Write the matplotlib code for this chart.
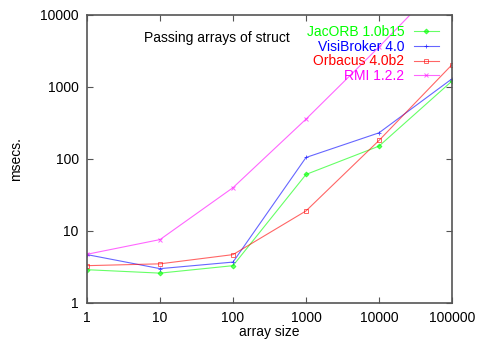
import numpy as np
from matplotlib import pyplot as plt

plt.rcParams['font.family'] = ['Liberation Sans', 'DejaVu Sans']

# data
sizes = [1, 10, 100, 1000, 10000, 100000]
size_labels = ['1', '10', '100', '1000', '10000', '100000']
jacorb = [2.9, 2.6, 3.3, 61, 151, 1210]
visibroker = [4.7, 3.0, 3.7, 105, 231, 1300]
orbacus = [3.3, 3.5, 4.7, 19, 181, 2040]
rmi = [4.75, 7.6, 40, 358, 3600, 40000]

y_ticks = [1, 10, 100, 1000, 10000]
y_labels = ['1', '10', '100', '1000', '10000']

fig = plt.figure(figsize=(4.83, 3.39), dpi=100)
ax = fig.add_axes([87 / 483, 1 - 303 / 339, 365 / 483, 288 / 339])

series = [
    ('JacORB 1.0b15', jacorb, '#00ff00', 'D', 2.5, 'full'),
    ('VisiBroker 4.0', visibroker, '#0000ff', '+', 3.5, 'full'),
    ('Orbacus 4.0b2', orbacus, '#ff0000', 's', 3.5, 'none'),
    ('RMI 1.2.2', rmi, '#ff00ff', 'x', 3.5, 'full'),
]
for name, vals, col, mk, ms, fill in series:
    ax.plot(sizes, vals, color=col, lw=0.8, marker=mk, ms=ms,
            fillstyle=fill, mew=0.7, alpha=0.6, label=name)

ax.set_xscale('log')
ax.set_yscale('log')
ax.set_xlim(1, 100000)
ax.set_ylim(1, 10000)
ax.set_xticks(sizes)
ax.set_xticklabels(size_labels)
ax.set_yticks(y_ticks)
ax.set_yticklabels(y_labels)
ax.minorticks_off()
ax.tick_params(direction='in', length=4, width=0.8, top=True, right=True,
               labelsize=10, color='#555555', pad=6)
for sp in ax.spines.values():
    sp.set_color('#555555')
    sp.set_linewidth(1.2)

ax.set_xlabel('array size', fontsize=10, labelpad=0)
ax.set_ylabel('msecs.', fontsize=10, labelpad=12)

leg = ax.legend(loc='upper right', bbox_to_anchor=(0.964, 0.965), frameon=False,
                fontsize=10, markerfirst=False, handlelength=1.8,
                handletextpad=0.7, labelspacing=0.05, borderaxespad=0,
                borderpad=0)
for txt, (name, vals, col, mk, ms, fill) in zip(leg.get_texts(), series):
    txt.set_color(col)

ax.text(0.556, 0.92, 'Passing arrays of struct', transform=ax.transAxes,
        ha='right', va='center', fontsize=10)

fig.savefig('out.png', dpi=100)
